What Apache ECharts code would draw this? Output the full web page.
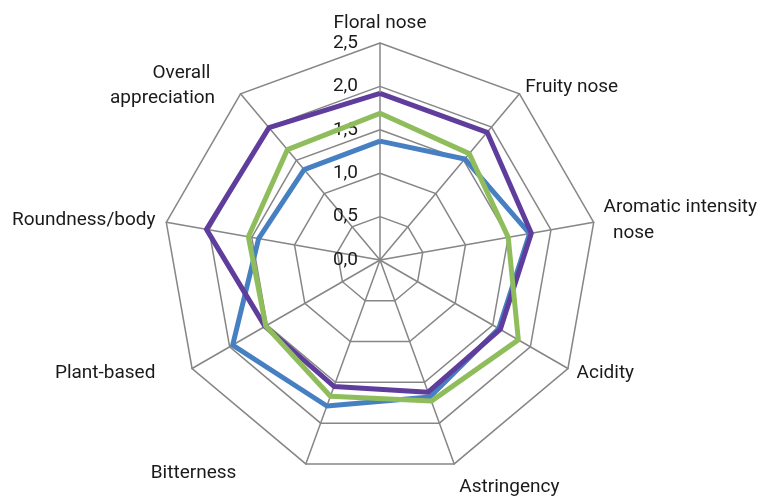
<!DOCTYPE html>
<html>
<head>
<meta charset="utf-8">
<script src="https://cdn.jsdelivr.net/npm/echarts@6/dist/echarts.min.js"></script>
<style>
  html, body { margin: 0; padding: 0; background: #ffffff; }
  #chart { width: 760px; height: 496px; }
</style>
</head>
<body>
<div id="chart"></div>
<script>
// Categories in clockwise order starting at the top
var categories = ['Floral nose', 'Fruity nose', 'Aromatic intensity\n  nose', 'Acidity', 'Astringency', 'Bitterness', 'Plant-based', 'Roundness/body', 'Overall \nappreciation'];
var seriesNames = ['Series 1', 'Series 2', 'Series 3'];
var blueValues   = [1.37, 1.52, 1.75, 1.58, 1.68, 1.79, 1.96, 1.42, 1.36];
var purpleValues = [1.92, 1.92, 1.77, 1.60, 1.62, 1.55, 1.53, 2.03, 1.99];
var greenValues  = [1.69, 1.60, 1.50, 1.84, 1.73, 1.67, 1.52, 1.54, 1.66];
var axisMin = 0;
var axisMax = 2.5;
var tickStep = 0.5;

// Per-category name placement (layout only)
var nameLayouts = [
  { nameGap: 10 },
  { nameGap: 9 },
  { nameGap: 10, nameTextStyle: { lineHeight: 26 } },
  { nameGap: 10 },
  { nameGap: 15, nameTextStyle: { verticalAlign: 'top', align: 'left' } },
  { nameGap: 10, nameTextStyle: { align: 'right', padding: [0, 66, 0, 0] } },
  { nameGap: 10, nameTextStyle: { align: 'right', padding: [0, 28, 0, 0] } },
  { nameGap: 11, nameTextStyle: { align: 'right' } },
  { nameGap: 10, nameTextStyle: { align: 'right', verticalAlign: 'middle', lineHeight: 25, padding: [0, 19, 0, 0] } }
];

// ECharts places indicators counter-clockwise; reorder so they read clockwise.
var order = [0, 8, 7, 6, 5, 4, 3, 2, 1];
function reorder(arr) { return order.map(function (i) { return arr[i]; }); }

var indicators = reorder(categories.map(function (name, i) {
  var ind = { name: name, min: axisMin, max: axisMax };
  var lay = nameLayouts[i];
  for (var k in lay) ind[k] = lay[k];
  if (i === 0) ind.axisLabel = { show: true };
  return ind;
}));

var chart = echarts.init(document.getElementById('chart'), null, { renderer: 'canvas' });
chart.setOption({
  animation: false,
  backgroundColor: '#ffffff',
  textStyle: { fontFamily: 'Roboto' },
  radar: {
    center: [380, 260],
    radius: 217,
    startAngle: 90,
    splitNumber: Math.round((axisMax - axisMin) / tickStep),
    shape: 'polygon',
    indicator: indicators,
    axisName: { color: '#1a1a1a', fontSize: 19, fontFamily: 'Roboto' },
    nameGap: 10,
    splitArea: { show: false },
    splitLine: { lineStyle: { color: '#868686', width: 1.5 } },
    axisLine: { lineStyle: { color: '#868686', width: 1.5 } },
    axisTick: { show: false },
    axisLabel: {
      show: false,
      color: '#1a1a1a',
      fontSize: 19,
      fontFamily: 'Roboto',
      margin: 22,
      formatter: function (v) { return Number(v).toFixed(1).replace('.', ','); }
    }
  },
  series: [{
    type: 'radar',
    symbol: 'none',
    data: [
      { name: seriesNames[0], value: reorder(blueValues),
        lineStyle: { color: '#4680C2', width: 5 }, itemStyle: { color: '#4680C2' } },
      { name: seriesNames[2], value: reorder(purpleValues),
        lineStyle: { color: '#5F3D9C', width: 5 }, itemStyle: { color: '#5F3D9C' } },
      { name: seriesNames[1], value: reorder(greenValues),
        lineStyle: { color: '#8FBD5C', width: 5 }, itemStyle: { color: '#8FBD5C' } }
    ]
  }]
});
</script>
</body>
</html>
